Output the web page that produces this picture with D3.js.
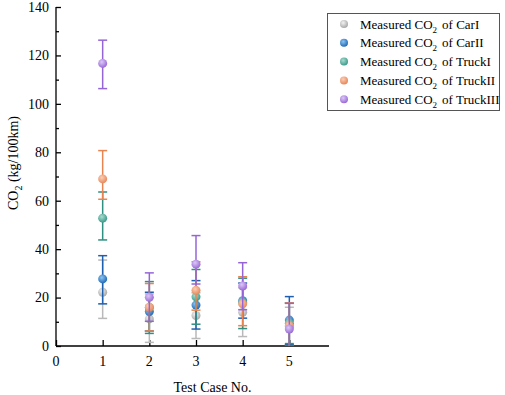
<!DOCTYPE html>
<html>
<head>
<meta charset="utf-8">
<script src="https://cdn.jsdelivr.net/npm/d3@7"></script>
<style>
  body { margin: 0; background: #fff; }
  text { font-family: "Liberation Serif", "Times New Roman", serif; }
</style>
</head>
<body>
<svg id="chart" width="505" height="395"></svg>
<script>
// test cases on the x axis
const cases = [1, 2, 3, 4, 5]
const seriesNames = ['CarI', 'CarII', 'TruckI', 'TruckII', 'TruckIII']
const carI = [22.2, 11.2, 12.6, 13.9, 8.0]
const carILow = [11.4, 1.5, 3.1, 3.9, 0.5]
const carIHigh = [35.5, 21.5, 22.0, 24.0, 16.0]
const carII = [27.7, 14.2, 16.9, 18.7, 10.7]
const carIILow = [17.4, 6.2, 7.0, 11.5, 0.5]
const carIIHigh = [37.3, 22.2, 27.0, 26.0, 20.4]
const truckI = [52.8, 15.9, 20.3, 18.0, 9.4]
const truckILow = [43.8, 5.2, 9.0, 7.2, 1.0]
const truckIHigh = [63.6, 26.6, 31.6, 28.0, 17.8]
const truckII = [69.0, 16.0, 23.0, 17.4, 8.4]
const truckIILow = [60.6, 6.2, 14.8, 8.4, -1.0]
const truckIIHigh = [80.7, 25.8, 34.8, 28.6, 17.8]
const truckIII = [116.7, 20.1, 33.8, 24.8, 7.0]
const truckIIILow = [106.3, 10.2, 25.6, 15.0, -3.6]
const truckIIIHigh = [126.3, 30.2, 45.6, 34.4, 17.6]
const yTicks = [0, 20, 40, 60, 80, 100, 120, 140]
const xTicks = [0, 1, 2, 3, 4, 5]

const series = [
  { name: 'CarI', v: carI, lo: carILow, hi: carIHigh, line: '#b9b9b9', light: '#f2f2f2', dark: '#a8a8a8' },
  { name: 'CarII', v: carII, lo: carIILow, hi: carIIHigh, line: '#1e5fae', light: '#8cc4f0', dark: '#1f6ab8' },
  { name: 'TruckI', v: truckI, lo: truckILow, hi: truckIHigh, line: '#2f8f80', light: '#a8dcd0', dark: '#3a9a8a' },
  { name: 'TruckII', v: truckII, lo: truckIILow, hi: truckIIHigh, line: '#e8844f', light: '#fbcfb5', dark: '#e8875a' },
  { name: 'TruckIII', v: truckIII, lo: truckIIILow, hi: truckIIIHigh, line: '#9565d8', light: '#dcc8f6', dark: '#9a6ad8' }
]

let svg = d3.select('#chart')
let padLeft = 56, padTop = 7, plotRight = 329, plotBottom = 346

let xScale = d3.scaleLinear().domain([0, 5.85]).range([padLeft, plotRight])
let yScale = d3.scaleLinear().domain([0, 140]).range([plotBottom, padTop])

// sphere-like gradients for the markers
let defs = svg.append('defs')
series.forEach((s, i) => {
  let g = defs.append('radialGradient')
    .attr('id', 'ball' + i)
    .attr('cx', '40%').attr('cy', '35%').attr('r', '65%')
  g.append('stop').attr('offset', '0%').attr('stop-color', s.light)
  g.append('stop').attr('offset', '100%').attr('stop-color', s.dark)
})
defs.append('clipPath').attr('id', 'plotClip')
  .append('rect')
  .attr('x', padLeft).attr('y', 0)
  .attr('width', plotRight - padLeft + 10).attr('height', plotBottom)

// axes (ticks point inward)
let yAxis = d3.axisRight(yScale).tickValues(yTicks).tickSize(5).tickFormat('')
let yMinor = d3.axisRight(yScale).tickValues(d3.range(10, 140, 20)).tickSize(3).tickFormat('')
svg.append('g').attr('transform', 'translate(' + padLeft + ',0)').call(yAxis)
  .call(g => g.select('.domain').attr('d', 'M0,' + padTop + 'V' + plotBottom))
svg.append('g').attr('transform', 'translate(' + padLeft + ',0)').call(yMinor)
  .call(g => g.select('.domain').remove())

svg.append('g').selectAll('text').data(yTicks).join('text')
  .attr('x', padLeft - 7)
  .attr('y', d => yScale(d))
  .attr('dy', '0.35em')
  .attr('text-anchor', 'end')
  .style('font-size', '14px')
  .text(d => d)

let xAxis = d3.axisTop(xScale).tickValues(xTicks).tickSize(6).tickFormat('')
svg.append('g').attr('transform', 'translate(0,' + plotBottom + ')').call(xAxis)
  .call(g => g.select('.domain').attr('d', 'M' + padLeft + ',0H' + plotRight))

svg.append('g').selectAll('text').data(xTicks).join('text')
  .attr('x', d => xScale(d))
  .attr('y', plotBottom + 20)
  .attr('text-anchor', 'middle')
  .style('font-size', '14px')
  .text(d => d)

svg.selectAll('.tick line, .domain').attr('stroke', '#000').attr('stroke-width', 1.3)

// axis titles
svg.append('text')
  .attr('x', (padLeft + plotRight) / 2 + 20)
  .attr('y', 392)
  .attr('text-anchor', 'middle')
  .style('font-size', '14px')
  .text('Test Case No.')

let yTitle = svg.append('text')
  .attr('transform', 'translate(18,' + 163 + ') rotate(-90)')
  .attr('text-anchor', 'middle')
  .style('font-size', '14px')
yTitle.append('tspan').text('CO')
yTitle.append('tspan').attr('dy', 4).style('font-size', '10px').text('2')
yTitle.append('tspan').attr('dy', -4).text(' (kg/100km)')

// error bars and markers
let plot = svg.append('g').attr('clip-path', 'url(#plotClip)')
let capW = 4.5
series.forEach((s, si) => {
  let g = plot.append('g')
  cases.forEach((c, i) => {
    let x = xScale(c)
    g.append('line')
      .attr('x1', x).attr('x2', x)
      .attr('y1', yScale(s.lo[i])).attr('y2', yScale(s.hi[i]))
      .attr('stroke', s.line).attr('stroke-width', 1.5)
    ;[s.lo[i], s.hi[i]].forEach(v => {
      g.append('line')
        .attr('x1', x - capW).attr('x2', x + capW)
        .attr('y1', yScale(v)).attr('y2', yScale(v))
        .attr('stroke', s.line).attr('stroke-width', 1.5)
    })
  })
  g.selectAll('circle').data(cases).join('circle')
    .attr('cx', d => xScale(d))
    .attr('cy', (d, i) => yScale(s.v[i]))
    .attr('r', 4.5)
    .attr('fill', 'url(#ball' + si + ')')
})

// legend
let legend = svg.append('g')
legend.append('rect')
  .attr('x', 327.5).attr('y', 13.5)
  .attr('width', 172).attr('height', 97)
  .attr('fill', '#fff').attr('stroke', '#555').attr('stroke-width', 1)
series.forEach((s, i) => {
  let y = 24 + i * 18.8
  legend.append('circle')
    .attr('cx', 344).attr('cy', y).attr('r', 4)
    .attr('fill', 'url(#ball' + i + ')')
  let t = legend.append('text')
    .attr('x', 360).attr('y', y)
    .attr('dy', '0.35em')
    .style('font-size', '13px')
  t.append('tspan').text('Measured CO')
  t.append('tspan').attr('dy', 4).style('font-size', '9px').text('2')
  t.append('tspan').attr('dy', -4).attr('dx', 5).text('of ' + s.name)
})
</script>
</body>
</html>
